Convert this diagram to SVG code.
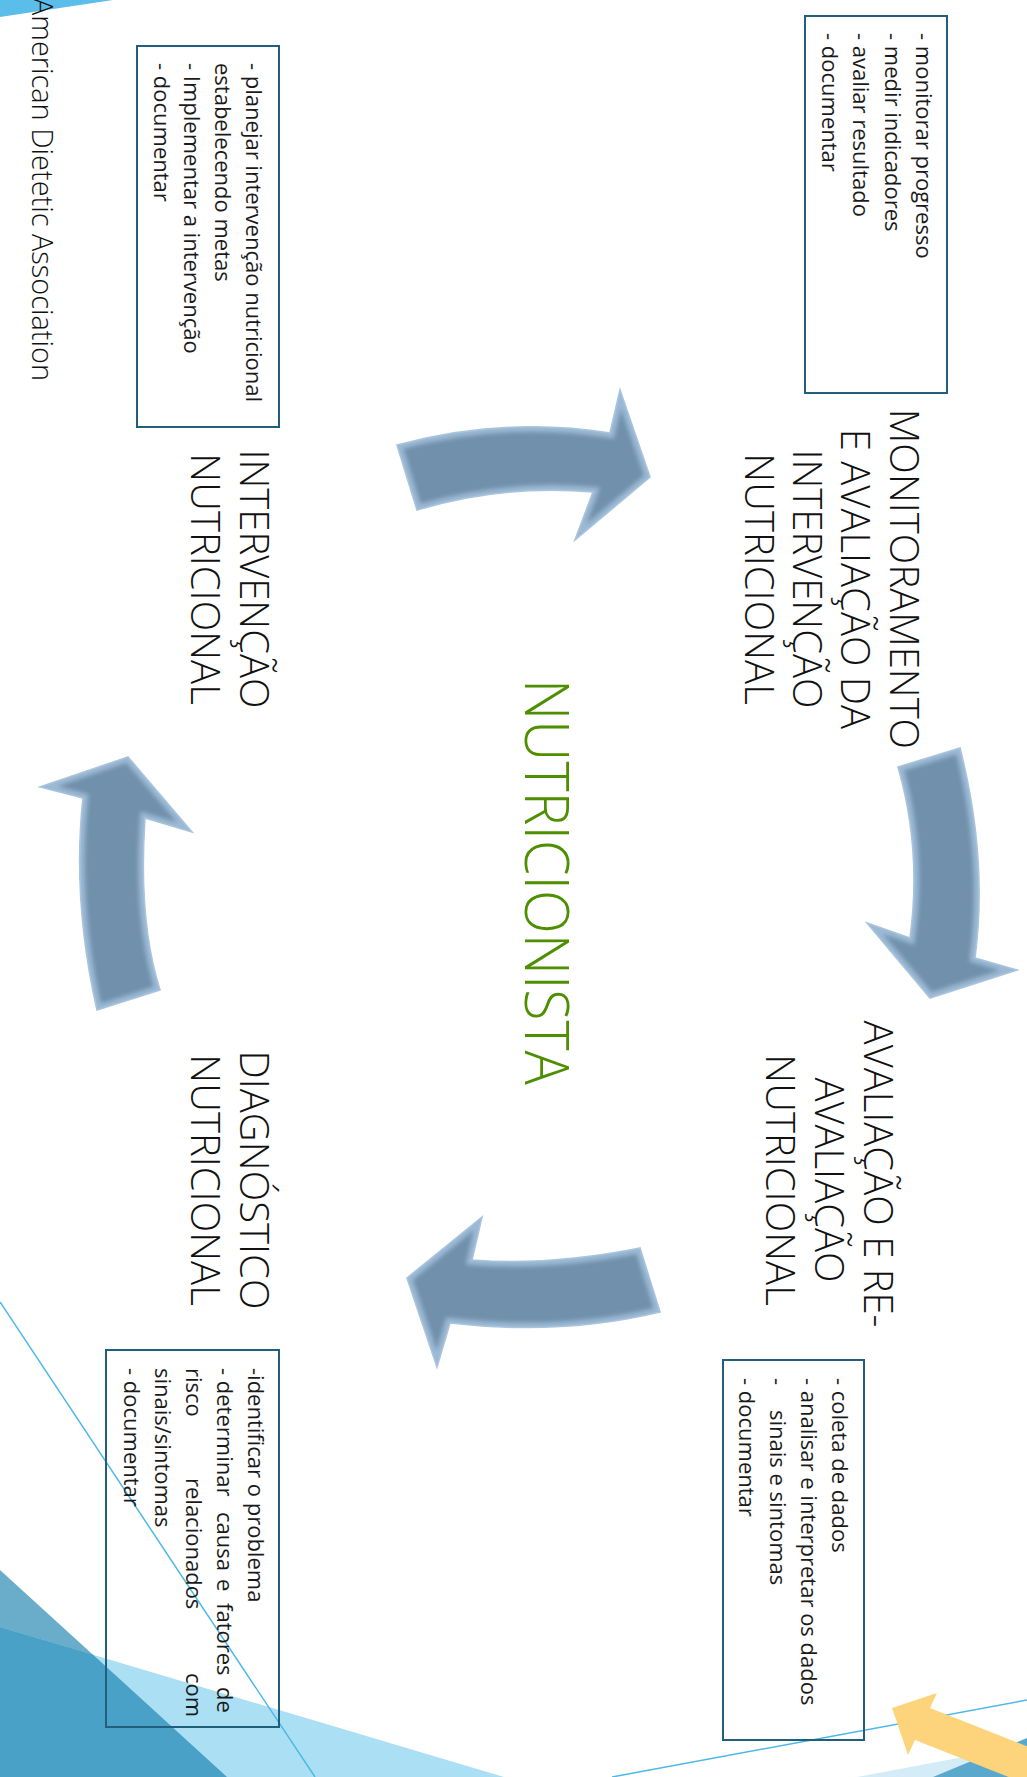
<svg xmlns="http://www.w3.org/2000/svg" width="1027" height="1777" viewBox="0 0 1027 1777">
  <defs>
    <style>
      .list { font-family: "Open Sans", "Liberation Sans", sans-serif; font-size: 22px; fill: #1a1a1a; }
      .title { font-family: "Open Sans", "Liberation Sans", sans-serif; font-weight: 300; font-size: 40px; fill: #111; text-anchor: middle; }
      .hub { font-family: "Open Sans", "Liberation Sans", sans-serif; font-weight: 300; font-size: 60px; fill: #4e8f00; text-anchor: middle; }
      .credit { font-family: "Open Sans", "Liberation Sans", sans-serif; font-weight: 300; font-size: 30px; fill: #111; }
      .box { fill: none; stroke: #225f7c; stroke-width: 2; }
      .a-body { fill: #7090ac; }
      .a-rim { fill: none; stroke: #9bb9d4; stroke-width: 10; filter: url(#soft); }
      .a-edge { fill: none; stroke: #a9c4dc; stroke-width: 1.6; filter: url(#hair); }
      .deco-line { fill: none; stroke: #4db8e8; stroke-width: 1.5; }
    </style>
    <filter id="soft" x="-10%" y="-10%" width="120%" height="120%">
      <feGaussianBlur stdDeviation="2.2"/>
    </filter>
    <filter id="hair" x="-10%" y="-10%" width="120%" height="120%">
      <feGaussianBlur stdDeviation="0.7"/>
    </filter>
    <!-- curved block arrows of the cycle -->
    <path id="arrA" d="M397,445 Q505,416 610,433 L620,390 L650,477 L575,540 L593,492 Q505,484 417,510 Z"/>
    <path id="arrB" d="M898,767 L960,748 Q988,858 975,958 L1017,970 L930,998 L867,923 L910,938 Q922,850 898,767 Z"/>
    <path id="arrC" d="M640,1248 Q550,1266 472,1260 L482,1217 L407,1278 L437,1367 L450,1323 Q560,1336 660,1312 Z"/>
    <path id="arrD" d="M128,757 L192,832 L145,818 Q138,920 160,990 L97,1010 Q72,900 83,798 L40,787 Z"/>
    <clipPath id="clipA"><use href="#arrA"/></clipPath>
    <clipPath id="clipB"><use href="#arrB"/></clipPath>
    <clipPath id="clipC"><use href="#arrC"/></clipPath>
    <clipPath id="clipD"><use href="#arrD"/></clipPath>
  </defs>

  <rect width="1027" height="1777" fill="#ffffff"/>

  <!-- theme facets -->
  <g id="background">
    <polygon points="0,0 113,0 0,17" fill="#5bbde9"/>
    <polygon points="0,1570 227,1777 0,1777" fill="#6aadcb"/>
    <polygon points="0,1627 504,1777 0,1777" fill="#abdff4"/>
    <polygon points="0,1627 92.8,1654.6 227,1777 0,1777" fill="#49a1c7"/>
    <line class="deco-line" x1="0" y1="1302" x2="315" y2="1777"/>
    <polygon points="857,1777 1027,1745 1027,1777" fill="#d3ecf7"/>
    <polygon points="933,1777 1027,1738 1027,1777" fill="#5aa8cc"/>
    <line class="deco-line" x1="612" y1="1777" x2="1027" y2="1700"/>
    <polygon points="892,1708 937,1693 930,1708 1130,1787 1115,1819 915,1740 908,1755" fill="#fdd47c"/>
  </g>

  <!-- cycle arrows -->
  <g id="connectors">
    <g id="arrow-intervencao-monitoramento">
      <use href="#arrA" class="a-body"/>
      <use href="#arrA" class="a-rim" clip-path="url(#clipA)"/>
      <use href="#arrA" class="a-edge"/>
    </g>
    <g id="arrow-monitoramento-avaliacao">
      <use href="#arrB" class="a-body"/>
      <use href="#arrB" class="a-rim" clip-path="url(#clipB)"/>
      <use href="#arrB" class="a-edge"/>
    </g>
    <g id="arrow-avaliacao-diagnostico">
      <use href="#arrC" class="a-body"/>
      <use href="#arrC" class="a-rim" clip-path="url(#clipC)"/>
      <use href="#arrC" class="a-edge"/>
    </g>
    <g id="arrow-diagnostico-intervencao">
      <use href="#arrD" class="a-body"/>
      <use href="#arrD" class="a-rim" clip-path="url(#clipD)"/>
      <use href="#arrD" class="a-edge"/>
    </g>
  </g>

  <!-- slide content, laid out landscape and turned a quarter clockwise -->
  <g id="slide" transform="matrix(0 1 -1 0 1027 0)">
    <g id="hub">
      <text class="hub" x="882" y="502" textLength="406" lengthAdjust="spacingAndGlyphs">NUTRICIONISTA</text>
    </g>

    <g id="monitoramento">
      <text class="title" x="579" y="137">MONITORAMENTO</text>
      <text class="title" x="579" y="186">E AVALIAÇÃO DA</text>
      <text class="title" x="579" y="234">INTERVENÇÃO</text>
      <text class="title" x="579" y="282">NUTRICIONAL</text>
    </g>
    <g id="monitoramento-notes">
      <rect class="box" x="16" y="80" width="377" height="142"/>
      <text class="list" x="33" y="111">- monitorar progresso</text>
      <text class="list" x="33" y="142">- medir indicadores</text>
      <text class="list" x="33" y="174">- avaliar resultado</text>
      <text class="list" x="33" y="205">- documentar</text>
    </g>

    <g id="avaliacao">
      <text class="title" x="1174" y="163">AVALIAÇÃO E RE-</text>
      <text class="title" x="1180" y="212">AVALIAÇÃO</text>
      <text class="title" x="1180" y="261">NUTRICIONAL</text>
    </g>
    <g id="avaliacao-notes">
      <rect class="box" x="1360" y="163" width="380" height="141"/>
      <text class="list" x="1378" y="195">- coleta de dados</text>
      <text class="list" x="1378" y="226">- analisar e interpretar os dados</text>
      <text class="list" y="257"><tspan x="1378">-</tspan><tspan x="1410">sinais e sintomas</tspan></text>
      <text class="list" x="1378" y="288">- documentar</text>
    </g>

    <g id="diagnostico">
      <text class="title" x="1180" y="787">DIAGNÓSTICO</text>
      <text class="title" x="1180" y="836">NUTRICIONAL</text>
    </g>
    <g id="diagnostico-notes">
      <rect class="box" x="1350" y="748" width="377" height="173"/>
      <text class="list" x="1368" y="779">-identificar o problema</text>
      <text class="list" y="810"><tspan x="1368">- determinar</tspan><tspan x="1512">causa</tspan><tspan x="1579">e</tspan><tspan x="1603">fatores</tspan><tspan x="1687">de</tspan></text>
      <text class="list" y="841"><tspan x="1368">risco</tspan><tspan x="1478">relacionados</tspan><tspan x="1673">com</tspan></text>
      <text class="list" x="1368" y="872">sinais/sintomas</text>
      <text class="list" x="1368" y="903">- documentar</text>
    </g>

    <g id="intervencao">
      <text class="title" x="579" y="787">INTERVENÇÃO</text>
      <text class="title" x="579" y="836">NUTRICIONAL</text>
    </g>
    <g id="intervencao-notes">
      <rect class="box" x="46" y="748" width="381" height="142"/>
      <text class="list" x="63" y="781">- planejar intervenção nutricional</text>
      <text class="list" x="63" y="812">estabelecendo metas</text>
      <text class="list" x="63" y="843">- Implementar a intervenção</text>
      <text class="list" x="63" y="873">- documentar</text>
    </g>

    <g id="credit">
      <text class="credit" x="-2" y="995" textLength="383" lengthAdjust="spacingAndGlyphs">American Dietetic Association</text>
    </g>
  </g>
</svg>
